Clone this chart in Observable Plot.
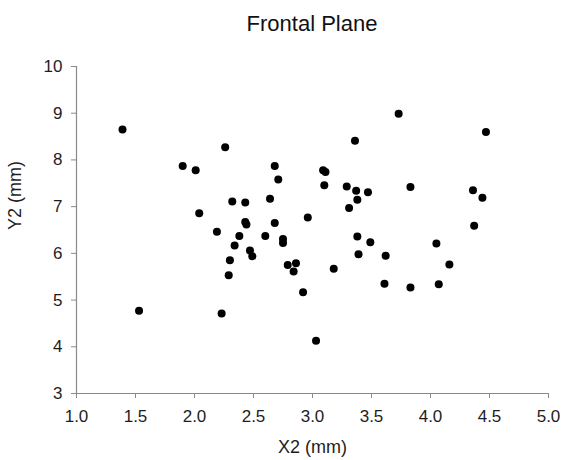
<!DOCTYPE html>
<html>
<head>
<meta charset="utf-8">
<script src="https://cdn.jsdelivr.net/npm/d3@7"></script>
<script src="https://cdn.jsdelivr.net/npm/@observablehq/plot@0.6"></script>
<style>
  html, body { margin: 0; padding: 0; background: #fff; }
  #title {
    height: 44px; box-sizing: border-box;
    padding: 13px 15px 0 76px;
    font: 22px "Liberation Sans", Arial, sans-serif; line-height: 1;
    text-align: center; color: #111;
  }
</style>
</head>
<body>
<div id="title">Frontal Plane</div>
<div id="chart"></div>
<script>
const x2 = [1.39, 1.53, 1.90, 2.01, 2.04, 2.19, 2.23, 2.26, 2.29, 2.30, 2.32, 2.34, 2.38, 2.43, 2.43, 2.44,
  2.47, 2.49, 2.60, 2.64, 2.68, 2.68, 2.71, 2.75, 2.75, 2.79, 2.84, 2.86, 2.92, 2.96, 3.03, 3.09,
  3.11, 3.10, 3.18, 3.29, 3.31, 3.36, 3.37, 3.38, 3.38, 3.39, 3.47, 3.49, 3.61, 3.62, 3.73, 3.83,
  3.83, 4.05, 4.07, 4.16, 4.36, 4.37, 4.44, 4.47];
const y2 = [8.65, 4.77, 7.87, 7.78, 6.86, 6.46, 4.71, 8.27, 5.53, 5.85, 7.11, 6.17, 6.37, 7.09, 6.67, 6.62,
  6.06, 5.94, 6.37, 7.17, 7.87, 6.65, 7.58, 6.31, 6.22, 5.75, 5.61, 5.79, 5.17, 6.77, 4.13, 7.78,
  7.74, 7.46, 5.67, 7.43, 6.97, 8.41, 7.34, 7.15, 6.36, 5.98, 7.31, 6.24, 5.35, 5.95, 8.99, 7.42,
  5.27, 6.21, 5.34, 5.76, 7.35, 6.59, 7.19, 8.60];
const xTicks = [1.0, 1.5, 2.0, 2.5, 3.0, 3.5, 4.0, 4.5, 5.0];
const yTicks = [3, 4, 5, 6, 7, 8, 9, 10];
const xLabel = "X2 (mm)";
const yLabel = "Y2 (mm)";

const data = x2.map((x, i) => ({x, y: y2[i]}));
const axisGray = "#8a8a8a";
const textCol = "#1e1e1e";
const xMin = xTicks[0], xMax = xTicks[xTicks.length - 1];
const yMin = yTicks[0], yMax = yTicks[yTicks.length - 1];

const chart = Plot.plot({
  width: 563,
  height: 416,
  marginTop: 22,
  marginBottom: 67,
  marginLeft: 76,
  marginRight: 15,
  style: {fontFamily: "'Liberation Sans', Arial, sans-serif", fontSize: "17px", background: "#fff"},
  x: {domain: [xMin, xMax]},
  y: {domain: [yMin, yMax]},
  marks: [
    Plot.axisX(xTicks, {tickFormat: d3.format(".1f"), tickSize: 5, tickPadding: 11,
      stroke: axisGray, fill: textCol, label: null, fontSize: 17}),
    Plot.axisY(yTicks, {tickSize: 5, tickPadding: 9,
      stroke: axisGray, fill: textCol, label: null, fontSize: 17}),
    Plot.ruleY([yMin], {stroke: axisGray, strokeWidth: 1.2}),
    Plot.ruleX([xMin], {stroke: axisGray, strokeWidth: 1.2}),
    Plot.dot(data, {x: "x", y: "y", r: 4, fill: "black"}),
    Plot.text([xLabel], {frameAnchor: "bottom", lineAnchor: "middle", dy: 54, fontSize: 18, fill: textCol}),
    Plot.text([yLabel], {frameAnchor: "left", lineAnchor: "middle", rotate: -90, dx: -61, fontSize: 18, fill: textCol})
  ]
});
document.getElementById("chart").appendChild(chart);
</script>
</body>
</html>
